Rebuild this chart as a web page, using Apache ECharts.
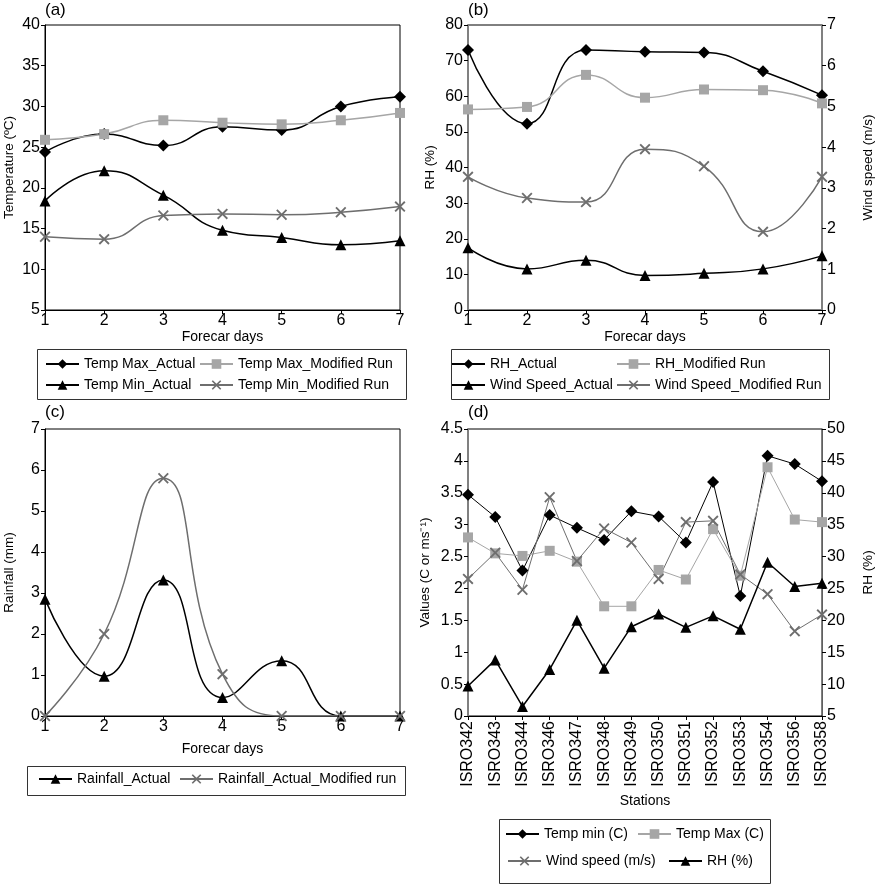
<!DOCTYPE html>
<html><head><meta charset="utf-8">
<script src="https://cdn.jsdelivr.net/npm/echarts@6/dist/echarts.min.js"></script>
<style>html,body{margin:0;padding:0;background:#fff}#c{width:877px;height:884px}</style>
</head><body><div id="c"></div>
<script>
// ---- data ----
const days = ['1','2','3','4','5','6','7'];
const tmaxActual   = [24.4, 26.6, 25.2, 27.5, 27.1, 30.0, 31.2];
const tmaxModified = [25.9, 26.6, 28.3, 28.0, 27.8, 28.3, 29.2];
const tminActual   = [18.4, 22.1, 19.1, 14.8, 13.9, 13.0, 13.5];
const tminModified = [14.0, 13.7, 16.6, 16.8, 16.7, 17.0, 17.7];

const rhActual      = [73.0, 52.3, 73.0, 72.5, 72.3, 67.0, 60.3];
const rhModified    = [56.3, 57.0, 66.0, 59.6, 61.9, 61.7, 58.0];
const windActual    = [1.53, 1.01, 1.22, 0.85, 0.90, 1.01, 1.33];
const windModified  = [3.27, 2.75, 2.65, 3.95, 3.53, 1.92, 3.27];

const rainActual    = [2.85, 0.97, 3.32, 0.45, 1.35, 0, 0];
const rainModified  = [0, 2.0, 5.8, 1.02, 0, 0, 0];

const stations = ['ISRO342','ISRO343','ISRO344','ISRO346','ISRO347','ISRO348','ISRO349','ISRO350','ISRO351','ISRO352','ISRO353','ISRO354','ISRO356','ISRO358'];
const stTempMin = [3.47, 3.12, 2.28, 3.15, 2.95, 2.76, 3.21, 3.13, 2.72, 3.67, 1.88, 4.08, 3.95, 3.68];
const stTempMax = [2.80, 2.55, 2.51, 2.59, 2.42, 1.72, 1.72, 2.29, 2.14, 2.93, 2.20, 3.90, 3.08, 3.04];
const stWind    = [2.15, 2.56, 1.98, 3.43, 2.43, 2.94, 2.72, 2.15, 3.04, 3.06, 2.22, 1.91, 1.33, 1.59];
const stRH      = [9.7, 13.8, 6.5, 12.3, 20.0, 12.5, 19.0, 21.0, 18.9, 20.7, 18.6, 29.1, 25.3, 25.8];

// ---- styling ----
const FONT = 'Liberation Sans, Arial, sans-serif';
const TXT = {fontFamily: FONT, fontSize: 14, color: '#000'};
const TICK = {fontFamily: FONT, fontSize: 16, color: '#000'};
const XSYM = 'path://M0,1.2L1.2,0L5,3.8L8.8,0L10,1.2L6.2,5L10,8.8L8.8,10L5,6.2L1.2,10L0,8.8L3.8,5Z';
const BLACK = '#000', LGRAY = '#a6a6a6', DGRAY = '#6e6e6e';

const grids = [
  {left: 45, top: 25, width: 355, height: 285},
  {left: 468, top: 25, width: 354, height: 285},
  {left: 45, top: 429, width: 355, height: 287},
  {left: 468, top: 429, width: 354, height: 287}
].map(g => Object.assign(g, {show: true, borderColor: '#000', borderWidth: 1, backgroundColor: 'transparent'}));

function xCat(gi, data, name, nameGap, rotate, axisColor) {
  return {type: 'category', gridIndex: gi, data: data, boundaryGap: false,
    name: name, nameLocation: 'middle', nameGap: nameGap, nameTextStyle: TXT,
    axisLine: {lineStyle: {color: axisColor || '#000', width: 1}},
    axisTick: {show: true, alignWithLabel: true, length: 4, lineStyle: {color: '#000'}},
    axisLabel: Object.assign({margin: rotate ? 5 : 3, rotate: rotate || 0, interval: 0}, TICK),
    splitLine: {show: false}};
}
function yVal(gi, min, max, interval, name, nameGap, pos, axisColor, lw) {
  return {type: 'value', gridIndex: gi, min: min, max: max, interval: interval, position: pos || 'left',
    name: name, nameLocation: 'middle', nameGap: nameGap, nameTextStyle: Object.assign({}, TXT, {fontSize: 13.5}),
    axisLine: {show: true, lineStyle: {color: axisColor || '#000', width: lw || 1}},
    axisTick: {show: true, length: 4, lineStyle: {color: '#000'}},
    axisLabel: Object.assign({margin: 5}, TICK),
    splitLine: {show: false}};
}

const xAxes = [
  xCat(0, days, 'Forecar days', 19),
  xCat(1, days, 'Forecar days', 19),
  xCat(2, days, 'Forecar days', 26),
  xCat(3, stations, 'Stations', 78, 90)
];
const yAxes = [
  yVal(0, 5, 40, 5, 'Temperature (ºC)', 29),
  yVal(1, 0, 80, 10, 'RH (%)', 31, 'left', '#808080', 2),
  yVal(1, 0, 7, 1, 'Wind speed (m/s)', 39, 'right', '#808080', 2),
  yVal(2, 0, 7, 1, 'Rainfall (mm)', 29),
  yVal(3, 0, 4.5, 0.5, 'Values (C or ms⁻¹)', 36, 'left', '#808080', 2),
  yVal(3, 5, 50, 5, 'RH (%)', 39, 'right', '#606060', 1)
];

function ser(name, data, xi, yi, color, symbol, size, smooth, lw) {
  return {type: 'line', name: name, data: data, xAxisIndex: xi, yAxisIndex: yi,
    smooth: smooth ? 0.5 : false, symbol: symbol, symbolSize: size, showSymbol: true,
    lineStyle: {color: color, width: lw || 1.5},
    itemStyle: {color: color, borderColor: color, borderWidth: 0},
    emphasis: {disabled: true}, animation: false, z: 3};
}

const series = [
  ser('Temp Max_Actual', tmaxActual, 0, 0, BLACK, 'diamond', 12, true),
  ser('Temp Max_Modified Run', tmaxModified, 0, 0, LGRAY, 'rect', 10, true),
  ser('Temp Min_Actual', tminActual, 0, 0, BLACK, 'triangle', 11, true),
  ser('Temp Min_Modified Run', tminModified, 0, 0, DGRAY, XSYM, 11, true),

  ser('RH_Actual', rhActual, 1, 1, BLACK, 'diamond', 12, true),
  ser('RH_Modified Run', rhModified, 1, 1, LGRAY, 'rect', 10, true),
  ser('Wind Speed_Actual', windActual, 1, 2, BLACK, 'triangle', 11, true),
  ser('Wind Speed_Modified Run', windModified, 1, 2, DGRAY, XSYM, 11, true),

  ser('Rainfall_Actual', rainActual, 2, 3, BLACK, 'triangle', 11, true),
  ser('Rainfall_Actual_Modified run', rainModified, 2, 3, DGRAY, XSYM, 11, true),

  ser('Temp min (C)', stTempMin, 3, 4, BLACK, 'diamond', 12, false, 1),
  ser('Temp Max (C)', stTempMax, 3, 4, LGRAY, 'rect', 10, false, 1),
  ser('Wind speed (m/s)', stWind, 3, 4, DGRAY, XSYM, 11, false, 1),
  ser('RH (%)', stRH, 3, 5, BLACK, 'triangle', 11, false, 1.5)
];

function leg(name, textX, cy) {
  return {data: [name], left: textX - 38, top: cy - 8, itemWidth: 33, itemHeight: 12, itemGap: 0,
    padding: 0, selectedMode: false, textStyle: {fontFamily: FONT, fontSize: 14, color: '#000', padding: [0,0,0,0]}};
}
const legends = [
  leg('Temp Max_Actual', 83, 365), leg('Temp Max_Modified Run', 237, 365),
  leg('Temp Min_Actual', 83, 386), leg('Temp Min_Modified Run', 237, 386),
  leg('RH_Actual', 489, 365), leg('RH_Modified Run', 654, 365),
  leg('Wind Speed_Actual', 489, 386), leg('Wind Speed_Modified Run', 654, 386),
  leg('Rainfall_Actual', 76, 780), leg('Rainfall_Actual_Modified run', 217, 780),
  leg('Temp min (C)', 543, 835), leg('Temp Max (C)', 675, 835),
  leg('Wind speed (m/s)', 545, 862), leg('RH (%)', 706, 862)
];

function box(x1, y1, x2, y2) {
  return {type: 'rect', shape: {x: x1 + 0.5, y: y1 + 0.5, width: x2 - x1, height: y2 - y1},
    style: {fill: 'transparent', stroke: '#333', lineWidth: 1}, z: 1};
}
function lab(t, x, y) {
  return {type: 'text', left: x, top: y, style: {text: t, fontFamily: FONT, fontSize: 17, fill: '#000'}};
}

const chart = echarts.init(document.getElementById('c'), null, {renderer: 'canvas'});
chart.setOption({
  backgroundColor: '#fff',
  animation: false,
  grid: grids,
  xAxis: xAxes,
  yAxis: yAxes,
  series: series,
  legend: legends,
  graphic: [
    box(37, 349, 406, 399), box(451, 349, 829, 399), box(27, 766, 405, 795), box(499, 819, 770, 883),
    lab('(a)', 45, 2), lab('(b)', 468, 2), lab('(c)', 45, 404), lab('(d)', 468, 404)
  ]
});
</script></body></html>
